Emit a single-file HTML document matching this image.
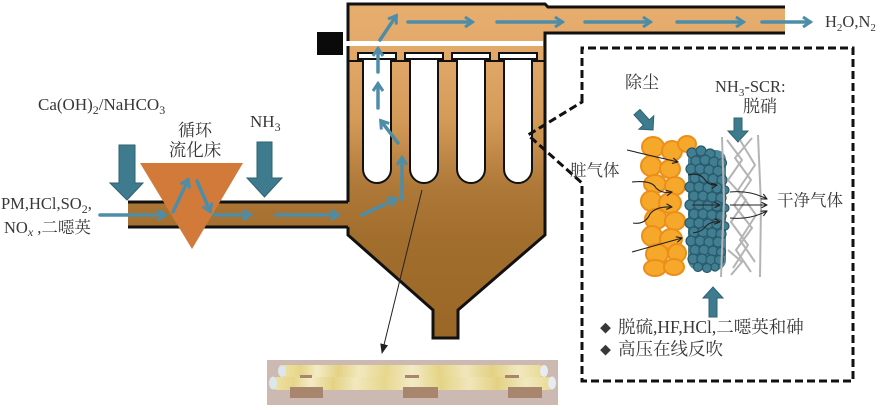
<!DOCTYPE html>
<html><head><meta charset="utf-8">
<style>
html,body{margin:0;padding:0;background:#fff;}
svg{display:block;}
text{font-family:"Liberation Serif","Noto Serif CJK SC",serif;fill:#383838;}
</style></head>
<body>
<svg width="881" height="410" viewBox="0 0 881 410" xmlns="http://www.w3.org/2000/svg">
<defs>
  <linearGradient id="body" gradientUnits="userSpaceOnUse" x1="0" y1="0" x2="0" y2="340">
    <stop offset="0" stop-color="#E7AE6F"/>
    <stop offset="0.15" stop-color="#E3A96A"/>
    <stop offset="0.35" stop-color="#D49A58"/>
    <stop offset="0.55" stop-color="#AE7838"/>
    <stop offset="0.7" stop-color="#A26E2D"/>
    <stop offset="1" stop-color="#9A6726"/>
  </linearGradient>
  <linearGradient id="tube" x1="0" y1="0" x2="1" y2="0">
    <stop offset="0" stop-color="#EFE3A8"/>
    <stop offset="0.08" stop-color="#E6D588"/>
    <stop offset="0.14" stop-color="#F3EBC6"/>
    <stop offset="0.22" stop-color="#E4D283"/>
    <stop offset="0.3" stop-color="#F1E8BE"/>
    <stop offset="0.4" stop-color="#E7D78D"/>
    <stop offset="0.5" stop-color="#F2EAC4"/>
    <stop offset="0.6" stop-color="#E5D486"/>
    <stop offset="0.7" stop-color="#F0E6BA"/>
    <stop offset="0.8" stop-color="#E3D182"/>
    <stop offset="0.9" stop-color="#F1E8C0"/>
    <stop offset="1" stop-color="#E8D98F"/>
  </linearGradient>
  <marker id="bh" viewBox="0 0 12 12" refX="9" refY="6" markerWidth="12" markerHeight="12" markerUnits="userSpaceOnUse" orient="auto">
    <path d="M2,1 L9.5,6 L2,11" fill="none" stroke="#4E8DA8" stroke-width="3"/>
  </marker>
  <marker id="kh" viewBox="0 0 10 10" refX="9" refY="5" markerWidth="7" markerHeight="7" markerUnits="userSpaceOnUse" orient="auto">
    <path d="M1,1 L9,5 L1,9" fill="none" stroke="#222" stroke-width="1.6"/>
  </marker>
  <marker id="kf" viewBox="0 0 10 10" refX="9" refY="5" markerWidth="10" markerHeight="10" markerUnits="userSpaceOnUse" orient="auto">
    <path d="M0,1 L10,5 L0,9 Z" fill="#222"/>
  </marker>
</defs>

<!-- Vessel -->
<path d="M348,4 L545,4 L548,7 L785,7 L785,33 L545,33 L545,235 L458,310 L458,338 L433,338 L433,310 L348,235 L348,227 L128,227 L128,202 L348,202 Z" fill="url(#body)"/>
<path d="M348,202 L348,4 L545,4 L548,7 L785,7 M785,33 L545,33 L545,235 L458,310 L458,338 L433,338 L433,310 L348,235 L348,227 M348,227 L128,227 M128,202 L348,202" fill="none" stroke="#111" stroke-width="3" stroke-linejoin="miter"/>
<rect x="317" y="32" width="26" height="23" fill="#0a0a0a"/>
<rect x="343" y="41" width="200" height="5" fill="#fff"/>
<line x1="349" y1="61" x2="545" y2="61" stroke="#111" stroke-width="2"/>
<g fill="#fff" stroke="#111" stroke-width="2">
  <path d="M363,59 L363,169 A14,14 0 0 0 391,169 L391,59"/>
  <path d="M410,59 L410,169 A14,14 0 0 0 438,169 L438,59"/>
  <path d="M457,59 L457,169 A14,14 0 0 0 485,169 L485,59"/>
  <path d="M504,59 L504,169 A14,14 0 0 0 532,169 L532,59"/>
  <rect x="358" y="53" width="38" height="6"/>
  <rect x="405" y="53" width="38" height="6"/>
  <rect x="452" y="53" width="38" height="6"/>
  <rect x="499" y="53" width="38" height="6"/>
</g>

<polygon points="140,163 243,163 192,249" fill="#D27A3A"/>

<g fill="#3F7B8E" stroke="#2F6272" stroke-width="1">
  <polygon points="119,145 135,145 135,183 143,183 127,200 110,183 119,183"/>
  <polygon points="257,142 272,142 272,178 282,178 264.5,197 247,178 257,178"/>
  <polygon points="734,118 742,118 742,131 748,131 738,142 728,131 734,131"/>
  <polygon points="709,317 717,317 717,298 723,298 713,287 703,298 709,298"/>
  <g transform="translate(645,121) rotate(48)">
    <polygon points="-12,-4 2,-4 2,-10 12,0 2,10 2,4 -12,4"/>
  </g>
</g>

<g stroke="#4E8DA8" stroke-width="3.5" fill="none" marker-end="url(#bh)" stroke-linecap="round">
  <line x1="100" y1="215" x2="165" y2="215"/>
  <line x1="173" y1="212" x2="188" y2="180"/>
  <line x1="197" y1="181" x2="210" y2="211"/>
  <line x1="214" y1="215" x2="250" y2="215"/>
  <line x1="276" y1="215" x2="338" y2="215"/>
  <line x1="362" y1="215" x2="396" y2="199"/>
  <line x1="402" y1="200" x2="402" y2="158"/>
  <line x1="398" y1="143" x2="381" y2="121"/>
  <line x1="378" y1="108" x2="378" y2="84"/>
  <line x1="378" y1="72" x2="378" y2="49"/>
  <line x1="380" y1="40" x2="396" y2="16"/>
  <line x1="408" y1="22" x2="472" y2="22"/>
  <line x1="497" y1="22" x2="562" y2="22"/>
  <line x1="585" y1="22" x2="650" y2="22"/>
  <line x1="677" y1="22" x2="743" y2="22"/>
  <line x1="762" y1="22" x2="810" y2="22"/>
</g>

<line x1="422" y1="190" x2="382" y2="353" stroke="#222" stroke-width="1" marker-end="url(#kf)"/>

<path d="M582,102 L582,48 L853,48 L853,381 L582,381 L582,183 L528,135 Z" fill="none" stroke="#111" stroke-width="3" stroke-dasharray="8 4"/>

<!-- yellow particles -->
<g fill="#F5A82A" stroke="#EC8E1A" stroke-width="2">
  <ellipse cx="653" cy="147" rx="11" ry="10"/>
  <ellipse cx="672" cy="151" rx="10" ry="10"/>
  <ellipse cx="687" cy="144" rx="9" ry="8"/>
  <ellipse cx="651" cy="166" rx="10" ry="10"/>
  <ellipse cx="670" cy="169" rx="10" ry="9"/>
  <ellipse cx="655" cy="184" rx="11" ry="9"/>
  <ellipse cx="675" cy="186" rx="10" ry="9"/>
  <ellipse cx="651" cy="201" rx="10" ry="10"/>
  <ellipse cx="670" cy="203" rx="11" ry="10"/>
  <ellipse cx="656" cy="219" rx="11" ry="10"/>
  <ellipse cx="675" cy="221" rx="10" ry="9"/>
  <ellipse cx="652" cy="236" rx="10" ry="10"/>
  <ellipse cx="671" cy="239" rx="11" ry="10"/>
  <ellipse cx="657" cy="254" rx="11" ry="10"/>
  <ellipse cx="677" cy="253" rx="9" ry="9"/>
  <ellipse cx="655" cy="268" rx="11" ry="8"/>
  <ellipse cx="674" cy="267" rx="10" ry="8"/>
</g>

<rect x="688" y="150" width="38" height="120" rx="10" fill="#4A8599"/>
<g fill="#417E92" stroke="#285A6A" stroke-width="1.2">
  <circle cx="692" cy="153" r="5"/><circle cx="701" cy="151" r="5"/><circle cx="710" cy="154" r="5"/>
  <circle cx="696" cy="161" r="5"/><circle cx="705" cy="160" r="5"/><circle cx="714" cy="162" r="5"/><circle cx="722" cy="163" r="4.5"/>
  <circle cx="691" cy="169" r="5"/><circle cx="700" cy="169" r="5"/><circle cx="709" cy="170" r="5"/><circle cx="718" cy="171" r="5"/>
  <circle cx="695" cy="178" r="5"/><circle cx="704" cy="178" r="5"/><circle cx="713" cy="179" r="5"/><circle cx="722" cy="180" r="5"/>
  <circle cx="690" cy="187" r="5"/><circle cx="699" cy="187" r="5"/><circle cx="708" cy="188" r="5"/><circle cx="717" cy="188" r="5"/><circle cx="725" cy="190" r="4"/>
  <circle cx="694" cy="196" r="5"/><circle cx="703" cy="196" r="5"/><circle cx="712" cy="197" r="5"/><circle cx="721" cy="198" r="5"/>
  <circle cx="690" cy="205" r="5"/><circle cx="699" cy="205" r="5"/><circle cx="708" cy="206" r="5"/><circle cx="717" cy="206" r="5"/><circle cx="725" cy="208" r="4"/>
  <circle cx="694" cy="214" r="5"/><circle cx="703" cy="214" r="5"/><circle cx="712" cy="215" r="5"/><circle cx="721" cy="216" r="5"/>
  <circle cx="690" cy="223" r="5"/><circle cx="699" cy="223" r="5"/><circle cx="708" cy="224" r="5"/><circle cx="717" cy="224" r="5"/><circle cx="725" cy="226" r="4"/>
  <circle cx="694" cy="232" r="5"/><circle cx="703" cy="232" r="5"/><circle cx="712" cy="233" r="5"/><circle cx="721" cy="234" r="5"/>
  <circle cx="691" cy="241" r="5"/><circle cx="700" cy="241" r="5"/><circle cx="709" cy="242" r="5"/><circle cx="718" cy="242" r="5"/>
  <circle cx="695" cy="250" r="5"/><circle cx="704" cy="250" r="5"/><circle cx="713" cy="251" r="5"/><circle cx="721" cy="252" r="4.5"/>
  <circle cx="693" cy="259" r="5"/><circle cx="702" cy="259" r="5"/><circle cx="711" cy="260" r="5"/><circle cx="719" cy="260" r="4.5"/>
  <circle cx="698" cy="267" r="4.5"/><circle cx="707" cy="268" r="4.5"/><circle cx="715" cy="267" r="4"/>
</g>

<g fill="none" stroke="#B4B4B4" stroke-width="2" stroke-linejoin="round">
  <path d="M722,137 L724,200 L721,277"/>
  <path d="M758,135 L761,205 L760,277"/>
  <path d="M727,140 L742,160 L728,180 L746,200 L731,222 L748,245 L733,268"/>
  <path d="M752,138 L735,158 L751,180 L734,205 L752,228 L736,250 L751,272"/>
  <path d="M740,140 L755,165 L738,190 L756,215 L740,240 L755,262"/>
  <path d="M728,250 L742,262 L731,275"/>
</g>

<g fill="none" stroke="#222" stroke-width="1.1" marker-end="url(#kh)">
  <path d="M627,150 L678,162"/>
  <path d="M632,182 Q652,180 656,188 Q662,194 672,192"/>
  <path d="M633,223 Q645,225 650,214 Q656,206 672,207"/>
  <path d="M632,252 L682,238"/>
  <path d="M688,175 Q700,172 705,180 Q710,186 717,185"/>
  <path d="M692,205 L720,205"/>
  <path d="M693,233 Q702,232 706,226 Q711,221 720,222"/>
  <path d="M730,192 Q750,190 767,199"/>
  <path d="M730,205 L767,205"/>
  <path d="M730,218 Q750,220 767,211"/>
</g>

<rect x="267" y="360" width="291" height="45" fill="#CBB9B2"/>
<rect x="280" y="365" width="265" height="12" rx="6" fill="url(#tube)"/>
<rect x="271" y="377" width="283" height="13" rx="6.5" fill="url(#tube)"/>
<ellipse cx="282" cy="371" rx="4" ry="6" fill="#DCE6EC"/>
<ellipse cx="544" cy="371" rx="4" ry="6" fill="#E6ECEF"/>
<ellipse cx="273" cy="383" rx="4" ry="6.5" fill="#DCE6EC"/>
<ellipse cx="552" cy="383" rx="4" ry="6.5" fill="#E6ECEF"/>
<g fill="#A8866E">
  <rect x="290" y="387" width="33" height="11"/>
  <rect x="403" y="387" width="35" height="11"/>
  <rect x="508" y="387" width="34" height="11"/>
  <rect x="300" y="375" width="12" height="3"/>
  <rect x="405" y="375" width="14" height="3"/>
  <rect x="505" y="375" width="14" height="3"/>
</g>

<text x="38" y="110" font-size="17">Ca(OH)<tspan dy="4" font-size="12">2</tspan><tspan dy="-4">/NaHCO</tspan><tspan dy="4" font-size="12">3</tspan></text>
<text x="195" y="136" font-size="17" text-anchor="middle">循环</text>
<text x="195" y="156" font-size="17.5" text-anchor="middle">流化床</text>
<text x="250" y="127" font-size="17">NH<tspan dy="4" font-size="12">3</tspan></text>
<text x="1" y="209" font-size="16.5">PM,HCl,SO<tspan dy="4" font-size="12">2</tspan><tspan dy="-4">,</tspan></text>
<text x="4" y="233" font-size="16.5">NO<tspan dy="3" font-size="12" font-style="italic">x</tspan><tspan dy="-3"> ,二噁英</tspan></text>
<text x="825" y="27" font-size="16.5">H<tspan dy="4" font-size="11">2</tspan><tspan dy="-4">O,N</tspan><tspan dy="4" font-size="11">2</tspan></text>
<text x="625" y="88" font-size="17">除尘</text>
<text x="715" y="92" font-size="16.5">NH<tspan dy="4" font-size="11">3</tspan><tspan dy="-4">-SCR:</tspan></text>
<text x="743" y="112" font-size="17">脱硝</text>
<text x="570" y="176" font-size="16.5">脏气体</text>
<text x="777" y="206" font-size="16.5">干净气体</text>
<text x="600" y="332" font-size="11">◆</text>
<text x="618" y="333" font-size="17.5">脱硫,HF,HCl,二噁英和砷</text>
<text x="600" y="354" font-size="11">◆</text>
<text x="618" y="355" font-size="17.5">高压在线反吹</text>
</svg>
</body></html>
